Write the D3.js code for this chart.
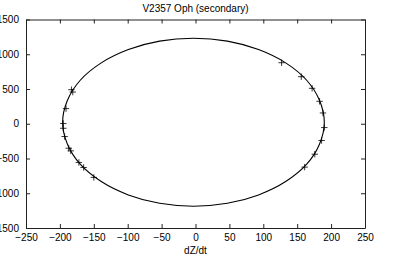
<!DOCTYPE html>
<html>
<head>
<meta charset="utf-8">
<title>V2357 Oph (secondary)</title>
<script src="https://d3js.org/d3.v7.min.js"></script>
<style>
  body { margin: 0; background: #fff; overflow: hidden; }
  svg text { font-family: "Liberation Sans", Arial, sans-serif; font-size: 10px; fill: #000; }
</style>
</head>
<body>
<div id="chart"></div>
<script>
// measured points (dZ/dt, Z)
var obsX = [127, 156, 172, 183, 188, 190, 186, 176, 161,
            -183, -181, -191, -195, -195, -193, -187, -184, -172, -165, -150];
var obsY = [878, 677, 510, 323, 155, -55, -241, -438, -624,
            490, 456, 218, 3, -65, -184, -352, -390, -557, -629, -772];

// model curve
var fitX = [190, 183, 164, 133, 93, 47, -3, -53, -99, -139, -170, -189,
            -196, -189, -170, -139, -99, -53, -3, 47, 93, 133, 164, 183];
var fitY = [22, 335, 626, 876, 1068, 1189, 1230, 1189, 1068, 876, 626, 335,
            22, -291, -582, -832, -1024, -1145, -1186, -1145, -1024, -832, -582, -291];

var xTicks = [-250, -200, -150, -100, -50, 0, 50, 100, 150, 200, 250];
var yTicks = [-1500, -1000, -500, 0, 500, 1000, 1500];

var width = 406, height = 257;
var mLeft = 26, mRight = 365, mTop = 19.5, mBottom = 228;

var svg = d3.select("#chart").append("svg")
  .attr("width", width)
  .attr("height", height);

var x = d3.scaleLinear().domain([-250, 250]).range([mLeft, mRight]);
var y = d3.scaleLinear().domain([-1500, 1500]).range([mBottom, mTop]);
var fmt = d3.format("d");

// axes with inward ticks, box style
svg.append("g")
  .attr("transform", "translate(0," + mBottom + ")")
  .call(d3.axisBottom(x).tickValues(xTicks).tickFormat(fmt).tickSizeInner(-4).tickSizeOuter(0).tickPadding(6));
svg.append("g")
  .attr("transform", "translate(0," + mTop + ")")
  .call(d3.axisTop(x).tickValues(xTicks).tickSizeInner(-4).tickSizeOuter(0).tickFormat(""));
svg.append("g")
  .attr("transform", "translate(" + mLeft + ",0)")
  .call(d3.axisLeft(y).tickValues(yTicks).tickFormat(fmt).tickSizeInner(-4).tickSizeOuter(0).tickPadding(7));
svg.append("g")
  .attr("transform", "translate(" + mRight + ",0)")
  .call(d3.axisRight(y).tickValues(yTicks).tickSizeInner(-4).tickSizeOuter(0).tickFormat(""));

svg.selectAll(".domain").attr("stroke", "#222");
svg.selectAll(".tick line").attr("stroke", "#222");
svg.selectAll(".tick text").style("font-size", "10px").attr("fill", "#000");

// fitted curve
var fit = fitX.map(function(d, i) { return [d, fitY[i]]; });
var line = d3.line()
  .x(function(d) { return x(d[0]); })
  .y(function(d) { return y(d[1]); })
  .curve(d3.curveCatmullRomClosed);

svg.append("path")
  .datum(fit)
  .attr("d", line)
  .attr("fill", "none")
  .attr("stroke", "#000")
  .attr("stroke-width", 1.1);

// plus markers
var obs = obsX.map(function(d, i) { return [d, obsY[i]]; });
var s = 3.2;
svg.selectAll(".pt")
  .data(obs).enter()
  .append("path")
  .attr("class", "pt")
  .attr("d", function(d) {
    var cx = x(d[0]), cy = y(d[1]);
    return "M" + (cx - s) + "," + cy + "H" + (cx + s) + "M" + cx + "," + (cy - s) + "V" + (cy + s);
  })
  .attr("stroke", "#000")
  .attr("stroke-width", 0.8);

// labels
svg.append("text")
  .attr("x", (mLeft + mRight) / 2)
  .attr("y", 12)
  .attr("text-anchor", "middle")
  .text("V2357 Oph (secondary)");

svg.append("text")
  .attr("x", (mLeft + mRight) / 2)
  .attr("y", 254)
  .attr("text-anchor", "middle")
  .text("dZ/dt");
</script>
</body>
</html>
